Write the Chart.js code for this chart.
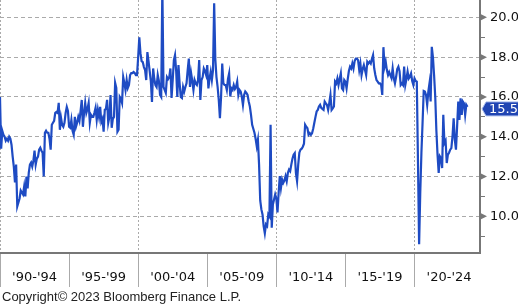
<!DOCTYPE html>
<html>
<head>
<meta charset="utf-8">
<script src="https://cdn.jsdelivr.net/npm/chart.js@4.4.0/dist/chart.umd.min.js"></script>
<style>
  html, body { margin: 0; padding: 0; background: #fff; }
  #wrap { width: 518px; height: 305px; position: relative; }
</style>
</head>
<body>
<div id="wrap"><canvas id="salesChart" width="518" height="305"></canvas></div>
<script>
// monthly values, Jan 1990 .. Nov 2023
const startYear = 1990;

const sales1990s = [
  16.0, 13.4, 14.3, 14.1, 14.0, 13.8, 13.9, 13.8, 14.0, 13.9, 13.6, 13.0,
  12.5, 11.7, 12.6, 10.5, 10.7, 10.9, 11.3, 11.2, 11.1, 11.5, 11.0, 12.0,
  11.4, 12.2, 12.6, 12.7, 12.5, 12.8, 13.3, 12.6, 12.9, 13.0, 13.35, 13.45,
  13.3, 13.2, 12.0, 14.2, 14.3, 14.2, 14.2, 13.9, 13.35, 14.6, 14.7, 14.8,
  15.2, 15.25, 15.2, 15.7, 14.35, 14.95, 14.6, 14.5, 14.7, 15.2, 15.5, 15.3,
  14.5, 14.45, 14.85, 14.3, 14.1, 15.0, 14.5, 14.7, 15.0, 14.8, 15.3, 15.85,
  14.5, 15.2, 15.7, 15.2, 15.4, 15.7, 14.7, 15.1, 15.0, 15.0, 15.2, 15.45,
  14.85, 15.35, 15.0, 15.5, 14.75, 14.9, 14.25, 15.35, 15.4, 15.85, 14.7, 15.0,
  16.1, 14.45, 14.9, 15.0, 16.7, 16.45, 14.25, 14.35, 16.0, 15.9, 15.7, 17.0,
  16.7, 16.35, 16.85, 16.45, 16.6, 17.1, 17.2, 17.2, 17.25, 17.2, 17.1, 17.1
];
const sales2000s = [
  18.0, 19.0, 18.2, 17.8, 17.75, 17.5, 17.35, 16.85, 18.25, 17.8, 17.3, 16.8,
  15.75, 17.43, 16.9, 16.6, 16.5, 17.1, 16.8, 16.1, 16.0, 21.5, 16.5, 16.35,
  16.2, 17.0, 16.9, 17.0, 17.43, 15.95, 16.85, 17.85, 18.1, 17.3, 16.0, 17.6,
  16.68, 16.0, 15.95, 16.5, 16.27, 16.5, 16.68, 17.35, 17.93, 16.5, 17.18, 16.8,
  16.35, 16.85, 16.68, 16.6, 16.85, 17.85, 15.85, 16.85, 17.0, 17.43, 17.3, 17.1,
  17.6, 16.43, 16.93, 17.27, 16.85, 17.35, 20.7, 17.9, 17.0, 16.5, 15.85, 14.93,
  16.0, 17.68, 16.68, 16.6, 16.6, 16.35, 16.9, 17.18, 16.02, 16.43, 16.35, 16.6,
  16.4, 16.5, 16.77, 16.1, 16.35, 16.27, 16.02, 15.6, 16.1, 16.27, 16.2, 16.1,
  15.77, 15.52, 15.1, 14.6, 14.4, 14.2, 13.9, 13.52, 13.85, 12.6, 10.8, 10.35,
  10.1, 9.5, 9.15, 9.6, 9.52, 10.1, 10.0, 14.6, 9.43, 10.6, 10.85, 11.1
];
const sales2010s = [
  10.9, 10.2, 11.18, 12.02, 11.43, 11.85, 11.68, 11.8, 12.02, 11.77, 12.18, 12.35,
  12.27, 12.6, 12.9, 13.1, 13.18, 12.18, 11.77, 12.6, 13.2, 13.35, 13.4, 13.5,
  13.65, 14.6, 14.5, 14.43, 14.1, 14.18, 14.1, 14.18, 14.4, 14.7, 15.0, 15.27,
  15.35, 15.52, 15.6, 15.45, 15.4, 15.35, 15.77, 15.68, 15.6, 15.35, 15.7, 16.1,
  15.35, 15.43, 15.52, 16.77, 16.68, 16.93, 16.6, 16.9, 17.18, 16.43, 16.35, 16.85,
  16.77, 16.43, 16.9, 17.3, 17.52, 17.43, 17.68, 17.43, 17.8, 17.93, 17.93, 17.85,
  17.35, 17.68, 17.1, 17.4, 17.6, 17.35, 17.1, 17.77, 17.68, 17.77, 17.68, 17.9,
  18.1, 17.43, 17.1, 16.85, 16.77, 16.68, 16.68, 16.6, 16.1, 18.5, 17.52, 17.77,
  17.35, 17.1, 17.25, 17.1, 16.95, 17.43, 16.93, 16.68, 17.0, 17.4, 17.52, 17.3,
  16.6, 16.68, 16.6, 17.52, 16.6, 16.9, 17.27, 16.93, 17.02, 17.18, 16.8, 16.6
];
const sales2020s = [
  16.93, 16.8, 16.77, 12.8, 8.6, 11.2, 13.2, 14.7, 16.3, 16.27, 16.1, 15.6,
  16.27, 16.68, 15.77, 18.52, 18.0, 17.1, 16.02, 14.3, 13.1, 12.18, 13.02, 12.93,
  12.43, 15.1, 13.68, 13.8, 12.68, 13.1, 13.2, 13.35, 13.43, 14.02, 14.93, 13.85,
  13.35, 14.52, 15.77, 14.85, 15.93, 15.1, 15.77, 15.68, 15.1, 15.6, 15.5
];

const periodLabels = ["'90-'94", "'95-'99", "'00-'04", "'05-'09", "'10-'14", "'15-'19", "'20-'24"];
const yTicks = [9, 10, 11, 12, 13, 14, 15, 16, 17, 18, 19, 20];

const values = sales1990s.concat(sales2000s, sales2010s, sales2020s);
const points = values.map((v, i) => ({ x: startYear + i / 12, y: v }));
const lastValue = values[values.length - 1];

const axisFont = { family: "'DejaVu Sans', Verdana, sans-serif", size: 13 };

// x ticks every 2.5 years: 5-year ones are separators, the middle ones carry the labels
const xTicks = [];
for (let k = 0; k < periodLabels.length * 2; k++) xTicks.push(startYear + k * 2.5);

const extras = {
  id: "extras",
  afterDraw(chart) {
    const ctx = chart.ctx;
    const y = chart.scales.y;
    const right = chart.chartArea.right;
    ctx.save();
    // arrow marks at the labelled ticks
    ctx.fillStyle = "#777";
    yTicks.forEach((v) => {
      if (v % 2 !== 0) return;
      const py = y.getPixelForValue(v);
      ctx.beginPath();
      ctx.moveTo(right, py - 3.5);
      ctx.lineTo(right + 7, py);
      ctx.lineTo(right, py + 3.5);
      ctx.closePath();
      ctx.fill();
    });
    // last value tag
    const ly = y.getPixelForValue(lastValue) + 2;
    ctx.fillStyle = "#2045b3";
    ctx.strokeStyle = "#a9bbec";
    ctx.lineWidth = 1;
    ctx.beginPath();
    ctx.moveTo(right + 2, ly);
    ctx.lineTo(right + 6, ly - 7);
    ctx.lineTo(chart.width + 1, ly - 7);
    ctx.lineTo(chart.width + 1, ly + 7);
    ctx.lineTo(right + 6, ly + 7);
    ctx.closePath();
    ctx.fill();
    ctx.stroke();
    ctx.fillStyle = "#fff";
    ctx.font = "13px 'DejaVu Sans', Verdana, sans-serif";
    ctx.textBaseline = "middle";
    ctx.textAlign = "left";
    ctx.fillText(lastValue.toFixed(1), right + 9, ly + 1);
    // source line
    ctx.fillStyle = "#222";
    ctx.font = "13px 'Liberation Sans', Arial, sans-serif";
    ctx.textBaseline = "alphabetic";
    ctx.fillText("Copyright\u00a9 2023 Bloomberg Finance L.P.", 2, 301);
    ctx.restore();
  }
};

new Chart(document.getElementById("salesChart"), {
  type: "line",
  data: {
    datasets: [{
      data: points,
      borderColor: "#1e4bc3",
      borderWidth: 2.2,
      pointRadius: 0,
      tension: 0
    }]
  },
  options: {
    responsive: false,
    animation: false,
    events: [],
    layout: { padding: 0 },
    plugins: { legend: { display: false }, tooltip: { enabled: false } },
    scales: {
      x: {
        type: "linear",
        min: 1990,
        max: 2024.74,
        afterBuildTicks: (scale) => { scale.ticks = xTicks.map((v) => ({ value: v })); },
        afterFit: (scale) => { scale.height = 52; scale.paddingLeft = 0; scale.paddingRight = 0; },
        border: { display: true, color: "#777", width: 2, dash: [2, 2] },
        grid: {
          drawOnChartArea: true,
          tickLength: 34,
          lineWidth: 1,
          color: (c) => (c.tick && (c.tick.value - startYear) % 10 === 0 ? "#aaa" : "rgba(0,0,0,0)"),
          tickColor: (c) => (c.tick && (c.tick.value - startYear) % 5 === 0 ? "#aaa" : "rgba(0,0,0,0)")
        },
        ticks: {
          autoSkip: false,
          maxRotation: 0,
          padding: -17,
          color: "#111",
          font: axisFont,
          callback: (v) => {
            const k = Math.round((v - startYear) / 2.5);
            return k % 2 === 1 ? periodLabels[(k - 1) / 2] : "";
          }
        }
      },
      y: {
        position: "right",
        min: 8.16,
        max: 20.87,
        afterBuildTicks: (scale) => { scale.ticks = yTicks.map((v) => ({ value: v })); },
        afterFit: (scale) => { scale.width = 38; scale.paddingTop = 0; scale.paddingBottom = 0; },
        border: { display: true, color: "#777", width: 2, dash: [4, 3] },
        grid: {
          tickLength: 5,
          lineWidth: 1,
          color: (c) => (c.tick && c.tick.value % 2 === 0 ? "#aaa" : "rgba(0,0,0,0)"),
          tickColor: "#777"
        },
        ticks: {
          padding: 5,
          color: "#111",
          font: axisFont,
          callback: (v) => (v % 2 === 0 ? v.toFixed(1) : "")
        }
      }
    }
  },
  plugins: [extras]
});
</script>
</body>
</html>
